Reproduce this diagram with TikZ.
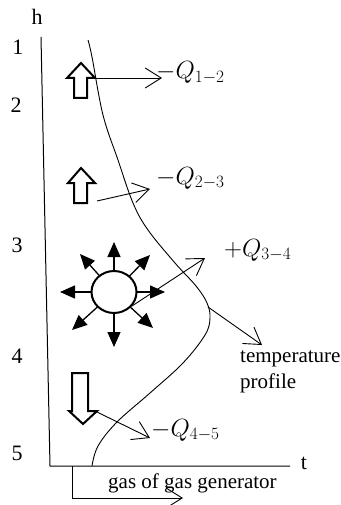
\documentclass[tikz,border=0pt]{standalone}
\usepackage{fontspec}
\setmainfont{Liberation Serif}
\usetikzlibrary{arrows.meta,shapes.geometric}
\begin{document}
\begin{tikzpicture}[x=1pt,y=-1pt,
  lbl/.style={font=\fontsize{22}{26}\selectfont, inner sep=0pt},
  txt/.style={font=\fontsize{21}{26}\selectfont, inner sep=0pt, align=left},
  qlbl/.style={font=\fontsize{26.5}{30}\selectfont, inner sep=0pt, anchor=base west},
  openarrow/.style={line width=0.9pt, -{Straight Barb[length=16pt,width=20pt,line width=0.9pt]}},
  blockarrow/.style={draw, line width=2pt, fill=white, line join=miter},
  ray/.style={line width=1.3pt, -{Triangle[length=15pt,width=13pt]}}
]
\useasboundingbox (0,0) rectangle (340,505);
% axes
\coordinate (ytop) at (41,37);
\coordinate (origin) at (50,466);
\coordinate (xend) at (290,466);
\draw[line width=1pt] (ytop) -- (origin) -- (xend);
\node[lbl] (h) at (37,17) {h};
\node[lbl] (t) at (304,463) {t};
\node[lbl] (n1) at (18,47) {1};
\node[lbl] (n2) at (16,105) {2};
\node[lbl] (n3) at (17,245) {3};
\node[lbl] (n4) at (17,356) {4};
\node[lbl] (n5) at (17,453) {5};
% temperature profile curve
\draw[line width=0.9pt] plot[smooth, tension=0.6] coordinates {(88,40) (92,57) (103,115) (118,160) (133,203) (148,230) (175,263) (196,286) (207,303) (210,318) (205,335) (183,363) (150,393) (117,422) (98,446) (92,466)};
% block arrows
\draw[blockarrow] (74,98) -- (74,78) -- (67,78) -- (81,63) -- (95,78) -- (87,78) -- (87,98) -- cycle;
\draw[blockarrow] (74,203) -- (74,183) -- (68,183) -- (81,168) -- (95,183) -- (87,183) -- (87,203) -- cycle;
\draw[blockarrow] (72,373) -- (72,411) -- (69,411) -- (83,424) -- (97,411) -- (88,411) -- (88,373) -- cycle;
% heat arrows
\coordinate (q12s) at (95,78);
\coordinate (q23s) at (97,201);
\coordinate (q45s) at (95,411);
\node[qlbl] (q12) at (156,79) {$-Q_{1-2}$};
\node[qlbl] (q23) at (156,184) {$-Q_{2-3}$};
\node[qlbl] (q34) at (224,256) {$+Q_{3-4}$};
\node[qlbl] (q45) at (151,436) {$-Q_{4-5}$};
\coordinate (q12e) at (162,78);
\coordinate (q23e) at (150,189);
\coordinate (q34e) at (205,258);
\coordinate (q45e) at (150,438);
\draw[openarrow] (q12s) -- (q12e);
\draw[openarrow] (q23s) -- (q23e);
\draw[openarrow] (q45s) -- (q45e);
% heat source
\coordinate (srcc) at (114,292);
\coordinate (q34s) at (132,306);
\draw[openarrow] (q34s) -- (q34e);
\coordinate (r1) at (114,242);
\coordinate (r2) at (150,255);
\coordinate (r3) at (165,292);
\coordinate (r4) at (153,328);
\coordinate (r5) at (114,347);
\coordinate (r6) at (72,330);
\coordinate (r7) at (60,292);
\coordinate (r8) at (80,254);
\foreach \r in {r1,r2,r3,r4,r5,r6,r7,r8} \draw[ray] (srcc) -- (\r);
\node[draw, line width=2pt, ellipse, minimum width=45pt, minimum height=42pt, inner sep=0pt, fill=white] (src) at (srcc) {};
% temperature profile label
\node[txt, anchor=base west] (tp) at (240,388) {temperature\\profile};
\coordinate (tps) at (208,307);
\coordinate (tpe) at (262,345);
\draw[openarrow] (tps) -- (tpe);
% gas of gas generator
\coordinate (g0) at (72,466);
\coordinate (g1) at (72,498);
\coordinate (g2) at (183,498);
\draw[openarrow] (g0) -- (g1) -- (g2);
\node[txt, anchor=base west] (gas) at (108,488) {gas of gas generator};
\end{tikzpicture}
\end{document}
